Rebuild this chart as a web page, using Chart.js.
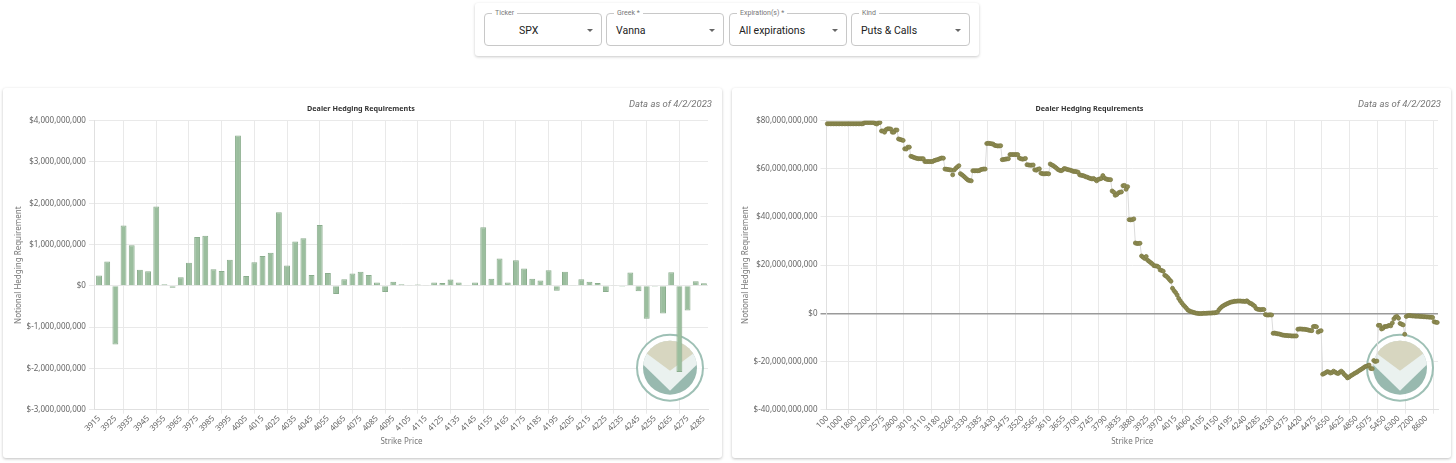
<!DOCTYPE html>
<html>
<head>
<meta charset="utf-8">
<script src="https://cdn.jsdelivr.net/npm/chart.js@4.4.0/dist/chart.umd.min.js"></script>
<style>
  body { margin: 0; background: #fff; font-family: Roboto, "Noto Sans", sans-serif; }
  .controls { position: absolute; left: 475px; top: 3px; width: 504px; height: 53px; background: #fff;
    box-shadow: 0 1px 3px rgba(0,0,0,0.22); border-radius: 3px; }
  .field { position: absolute; top: 10px; height: 33px; border: 1px solid #c8c8c8; border-radius: 4px; box-sizing: border-box; }
  .field .lab { position: absolute; top: -5px; left: 7px; padding: 0 3px; background: #fff; font-size: 7px; color: #777; line-height: 9px; }
  .field .val { position: absolute; top: 10px; font-size: 10.5px; color: #222; line-height: 13px; }
  .field .arr { position: absolute; right: 8px; top: 15px; width: 0; height: 0;
    border-left: 3.5px solid transparent; border-right: 3.5px solid transparent; border-top: 3.5px solid #666; }
  .card { position: absolute; top: 88px; width: 719px; height: 370px; background: #fff;
    box-shadow: 0 1px 3px rgba(0,0,0,0.25); border-radius: 3px; }
  .card canvas { position: absolute; left: 0; top: 0; }
  .asof { position: absolute; right: 10px; top: 10px; font-size: 9.5px; font-style: italic; color: #777; }
</style>
</head>
<body>
<div class="controls">
  <div class="field" style="left:9px;width:118px"><span class="lab">Ticker</span><span class="val" style="left:34px">SPX</span><span class="arr"></span></div>
  <div class="field" style="left:131px;width:118px"><span class="lab">Greek *</span><span class="val" style="left:9px">Vanna</span><span class="arr"></span></div>
  <div class="field" style="left:254px;width:118px"><span class="lab">Expiration(s) *</span><span class="val" style="left:9px">All expirations</span><span class="arr"></span></div>
  <div class="field" style="left:376px;width:119px"><span class="lab">Kind</span><span class="val" style="left:9px">Puts &amp; Calls</span><span class="arr"></span></div>
</div>
<div class="card" style="left:3px"><canvas id="left_chart"></canvas><div class="asof">Data as of 4/2/2023</div></div>
<div class="card" style="left:732px"><canvas id="right_chart"></canvas><div class="asof">Data as of 4/2/2023</div></div>
<script>
// strikes for the left bar chart (every 5 points)
const strikes_left = [
  3915, 3920, 3925, 3930, 3935, 3940, 3945, 3950, 3955, 3960, 3965, 3970, 3975, 3980, 3985,
  3990, 3995, 4000, 4005, 4010, 4015, 4020, 4025, 4030, 4035, 4040, 4045, 4050, 4055, 4060,
  4065, 4070, 4075, 4080, 4085, 4090, 4095, 4100, 4105, 4110, 4115, 4120, 4125, 4130, 4135,
  4140, 4145, 4150, 4155, 4160, 4165, 4170, 4175, 4180, 4185, 4190, 4195, 4200, 4205, 4210,
  4215, 4220, 4225, 4230, 4235, 4240, 4245, 4250, 4255, 4260, 4265, 4270, 4275, 4280, 4285
];
// hedging per strike, in billions of dollars
const hedge_left = [
  0.25, 0.59, -1.42, 1.46, 0.98, 0.39, 0.35, 1.92, 0.04, -0.05,
  0.21, 0.56, 1.18, 1.21, 0.40, 0.36, 0.63, 3.64, 0.24, 0.57,
  0.72, 0.80, 1.78, 0.49, 1.07, 1.15, 0.26, 1.47, 0.31, -0.20,
  0.16, 0.30, 0.34, 0.26, 0.08, -0.15, 0.10, 0.04, 0.01, 0.03,
  0.02, 0.08, 0.07, 0.15, 0.08, 0.01, 0.08, 1.42, 0.17, 0.66,
  0.08, 0.62, 0.42, 0.17, 0.13, 0.375, -0.12, 0.34, 0.01, 0.16,
  0.10, 0.07, -0.15, 0.01, -0.02, 0.32, -0.13, -0.80, -0.02, -0.67,
  0.33, -2.09, -0.60, 0.11, 0.06
];

// strikes for the right cumulative chart, one row per visible tick
const strikes_right = [
  100, 200, 300, 400, 500, 600, 700, 800, 900,
  1000, 1100, 1200, 1300, 1400, 1500, 1600, 1700, 1750,
  1800, 1850, 1900, 1950, 2000, 2050, 2100, 2150, 2175,
  2200, 2250, 2300, 2350, 2400, 2450, 2500, 2525, 2550,
  2575, 2600, 2625, 2650, 2675, 2700, 2725, 2750, 2775,
  2800, 2825, 2850, 2875, 2900, 2925, 2950, 2975, 3000,
  3010, 3020, 3025, 3030, 3040, 3050, 3060, 3075, 3090,
  3110, 3120, 3125, 3130, 3140, 3150, 3155, 3160, 3170,
  3180, 3190, 3200, 3210, 3220, 3225, 3230, 3240, 3250,
  3260, 3270, 3275, 3280, 3290, 3300, 3310, 3320, 3325,
  3330, 3335, 3340, 3350, 3360, 3365, 3370, 3375, 3380,
  3385, 3390, 3395, 3400, 3405, 3410, 3415, 3420, 3425,
  3430, 3435, 3440, 3445, 3450, 3455, 3460, 3465, 3470,
  3475, 3480, 3485, 3490, 3495, 3500, 3505, 3510, 3515,
  3520, 3525, 3530, 3535, 3540, 3545, 3550, 3555, 3560,
  3565, 3570, 3575, 3580, 3585, 3590, 3595, 3600, 3605,
  3610, 3615, 3620, 3625, 3630, 3635, 3640, 3645, 3650,
  3655, 3660, 3665, 3670, 3675, 3680, 3685, 3690, 3695,
  3700, 3705, 3710, 3715, 3720, 3725, 3730, 3735, 3740,
  3745, 3750, 3755, 3760, 3765, 3770, 3775, 3780, 3785,
  3790, 3795, 3800, 3805, 3810, 3815, 3820, 3825, 3830,
  3835, 3840, 3845, 3850, 3855, 3860, 3865, 3870, 3875,
  3880, 3885, 3890, 3895, 3900, 3905, 3910, 3915, 3920,
  3925, 3930, 3935, 3940, 3945, 3950, 3955, 3960, 3965,
  3970, 3975, 3980, 3985, 3990, 3995, 4000, 4005, 4010,
  4015, 4020, 4025, 4030, 4035, 4040, 4045, 4050, 4055,
  4060, 4065, 4070, 4075, 4080, 4085, 4090, 4095, 4100,
  4105, 4110, 4115, 4120, 4125, 4130, 4135, 4140, 4145,
  4150, 4155, 4160, 4165, 4170, 4175, 4180, 4185, 4190,
  4195, 4200, 4205, 4210, 4215, 4220, 4225, 4230, 4235,
  4240, 4245, 4250, 4255, 4260, 4265, 4270, 4275, 4280,
  4285, 4290, 4295, 4300, 4305, 4310, 4315, 4320, 4325,
  4330, 4335, 4340, 4345, 4350, 4355, 4360, 4365, 4370,
  4375, 4380, 4385, 4390, 4395, 4400, 4405, 4410, 4415,
  4420, 4425, 4430, 4435, 4440, 4445, 4450, 4460, 4470,
  4475, 4480, 4490, 4500, 4510, 4520, 4525, 4530, 4540,
  4550, 4560, 4570, 4575, 4580, 4590, 4600, 4610, 4620,
  4625, 4650, 4675, 4700, 4725, 4750, 4775, 4800, 4825,
  4850, 4875, 4900, 4925, 4950, 4975, 5000, 5025, 5050,
  5075, 5100, 5150, 5200, 5250, 5300, 5350, 5400, 5425,
  5450, 5500, 5600, 5700, 5800, 5900, 6000, 6100, 6200,
  6300, 6400, 6500, 6600, 6700, 6800, 6900, 7000, 7100,
  7200, 7300, 7400, 7600, 7800, 8000, 8200, 8400, 8500,
  8600, 8800, 9000, 9200, 9400, 9600, 10000, 12000
];
// cumulative hedging, in billions of dollars, same rows as above
const hedge_right = [
  78.7, 78.7, 78.7, 78.7, 78.7, 78.7, 78.7, 78.7, 78.7,
  78.7, 78.7, 78.7, 78.7, 78.7, 78.7, 78.7, 78.7, 78.7,
  78.7, 78.7, 78.7, 78.7, 78.7, 78.7, 79.2, 79.2, 79.2,
  79.2, 79.2, 79.2, 79.2, 78.8, 78.6, 79.1, 79.2, 75.7,
  75.7, 75.2, 76.3, 76.6, 76.6, 76.5, 75.2, 75.2, 76.1,
  76.1, 72.4, 72.2, 72.0, 71.8, 68.3, 68.2, 69.0, 69.0,
  65.2, 65.0, 64.7, 64.5, 64.3, 64.2, 64.2, 64.2, 64.2,
  63.0, 63.0, 63.0, 63.0, 63.0, 63.0, 63.4, 63.6, 63.8,
  64.0, 64.3, 64.5, 64.4, 59.9, 59.8, 59.7, 59.6, 59.5,
  57.5, 59.5, 60.2, 60.8, 61.3, 58.0, 57.5, 57.0, 56.4,
  55.8, 55.3, 55.1, 55.0, 59.2, 59.2, 59.2, 59.2, 59.2,
  59.6, 59.8, 59.9, 59.9, 70.5, 70.6, 70.5, 70.4, 70.3,
  69.8, 69.6, 69.5, 69.5, 69.6, 63.8, 63.9, 64.0, 64.1,
  64.2, 65.9, 65.9, 65.9, 65.9, 65.9, 65.9, 64.5, 64.2,
  64.0, 64.1, 64.3, 61.7, 61.6, 61.5, 61.5, 61.6, 59.6,
  59.4, 59.8, 60.0, 58.2, 58.0, 57.9, 58.0, 58.0, 57.9,
  62.0, 61.6, 61.3, 60.8, 60.3, 59.7, 59.4, 59.2, 59.5,
  60.1, 60.0, 59.7, 59.6, 59.4, 59.2, 58.9, 58.9, 58.8,
  58.6, 57.5, 57.3, 57.2, 57.0, 56.7, 56.5, 56.2, 56.0,
  55.8, 56.0, 55.6, 55.0, 55.6, 55.8, 56.0, 57.2, 56.2,
  55.8, 55.6, 55.5, 55.5, 50.8, 50.3, 49.0, 49.3, 50.0,
  50.3, 50.4, 53.0, 53.1, 51.5, 52.6, 38.9, 38.8, 38.9,
  39.2, 29.2, 29.0, 29.0, 29.1, 23.8, 23.3, 22.8, 23.6,
  22.0, 21.5, 21.0, 20.5, 19.8, 19.7, 19.6, 19.2, 18.0,
  17.8, 17.5, 15.8, 15.4, 14.8, 14.0, 13.3, 10.4, 9.4,
  8.6, 7.6, 6.2, 5.2, 4.3, 3.5, 2.8, 2.1, 1.3,
  1.0, 0.7, 0.5, 0.3, 0.1, 0.0, -0.1, -0.1, -0.1,
  0.0, 0.0, 0.0, 0.1, 0.1, 0.1, 0.2, 0.2, 0.3,
  0.5, 1.5, 2.2, 2.8, 3.2, 3.6, 3.9, 4.2, 4.5,
  4.7, 4.8, 5.0, 5.0, 5.1, 5.1, 5.1, 5.0, 5.0,
  4.9, 5.2, 4.7, 4.2, 4.0, 3.5, 3.0, 2.0, 1.7,
  1.6, 1.5, 1.6, 1.6, -0.5, -0.7, -0.7, -0.6, -0.7,
  -8.3, -8.2, -8.4, -8.5, -8.6, -8.8, -9.0, -9.1, -9.2,
  -9.2, -9.3, -9.3, -9.4, -9.4, -9.4, -9.4, -6.6, -6.5,
  -6.5, -6.6, -6.6, -6.7, -6.8, -7.0, -7.1, -7.2, -5.5,
  -5.4, -5.6, -7.8, -7.4, -7.2, -25.3, -25.0, -24.6, -24.2,
  -24.4, -24.8, -24.6, -24.0, -24.4, -24.8, -25.0, -24.5, -24.0,
  -24.6, -25.4, -26.0, -26.8, -26.5, -26.0, -25.6, -25.2, -24.8,
  -24.5, -24.0, -23.6, -23.2, -22.8, -22.3, -22.0, -21.8, -21.5,
  -22.9, -23.0, -19.6, -20.0, -19.8, -5.0, -5.0, -6.5, -6.2,
  -5.5, -5.5, -5.3, -5.0, -5.2, -4.0, -2.3, -1.5, -1.3,
  -2.0, -4.2, -4.5, -4.8, -8.7, -1.3, -1.0, -0.9, -1.0,
  -1.1, -1.1, -1.2, -1.2, -1.2, -1.3, -1.3, -1.4, -1.4,
  -1.5, -1.5, -1.6, -1.6, -1.7, -3.5, -3.7, -3.8
];

// y axis ranges (billions): min, max, step
const left_range = [-3, 4, 1];
const right_range = [-40, 80, 20];

Chart.defaults.font.family = "'Noto Sans', sans-serif";
Chart.defaults.font.size = 8;
Chart.defaults.color = "#666";

// "$4,000,000,000" style labels, values come in as billions
function money(v) {
  return "$" + Math.round(v * 1e9).toLocaleString("en-US");
}

// the little round watermark, drawn under the data
const logo = {
  id: "logo",
  beforeDatasetsDraw(chart) {
    const ctx = chart.ctx;
    const a = chart.chartArea;
    const cx = a.right - 38;
    const cy = a.bottom - 42;
    ctx.save();
    ctx.globalAlpha = 0.8;
    ctx.beginPath();
    ctx.arc(cx, cy, 33, 0, Math.PI * 2);
    ctx.fillStyle = "#fff";
    ctx.fill();
    ctx.strokeStyle = "#86b0a3";
    ctx.lineWidth = 2;
    ctx.stroke();
    ctx.beginPath();
    ctx.arc(cx, cy, 27, 0, Math.PI * 2);
    ctx.clip();
    ctx.fillStyle = "#7ea89b";
    ctx.fillRect(cx - 30, cy - 30, 60, 60);
    ctx.fillStyle = "#fff";
    ctx.beginPath();
    ctx.moveTo(cx - 30, cy - 30);
    ctx.lineTo(cx + 30, cy - 30);
    ctx.lineTo(cx + 30, cy - 6);
    ctx.lineTo(cx, cy + 23);
    ctx.lineTo(cx - 30, cy - 6);
    ctx.closePath();
    ctx.fill();
    ctx.fillStyle = "#d2d0b4";
    ctx.beginPath();
    ctx.moveTo(cx - 30, cy - 30);
    ctx.lineTo(cx + 30, cy - 30);
    ctx.lineTo(cx + 30, cy - 19);
    ctx.lineTo(cx, cy + 3);
    ctx.lineTo(cx - 30, cy - 19);
    ctx.closePath();
    ctx.fill();
    ctx.restore();
  }
};

function axis_y(range, dark_zero) {
  return {
    min: range[0],
    max: range[1],
    ticks: { stepSize: range[2], callback: money, padding: 3 },
    grid: {
      color: (c) => (dark_zero && c.tick && c.tick.value === 0 ? "#9a9a9a" : "#e9e9e9"),
      lineWidth: (c) => (dark_zero && c.tick && c.tick.value === 0 ? 1.5 : 1),
      tickLength: 6
    },
    border: { color: "#e0e0e0" },
    title: { display: true, text: "Notional Hedging Requirement", color: "#777",
      font: { size: 8 }, padding: { top: 0, bottom: 0 } }
  };
}

function axis_x(limit) {
  return {
    offset: true,
    ticks: { minRotation: 45, maxRotation: 45, autoSkip: true, autoSkipPadding: 0, maxTicksLimit: limit, padding: 0 },
    grid: { offset: true, color: "#e9e9e9", tickLength: 4 },
    border: { color: "#e0e0e0" },
    title: { display: true, text: "Strike Price", color: "#777", font: { size: 8 }, padding: { top: 4, bottom: 0 } }
  };
}

function base_plugins() {
  return {
    legend: { display: false },
    tooltip: { enabled: false },
    title: {
      display: true,
      text: "Dealer Hedging Requirements",
      color: "#333",
      font: { size: 7.2, weight: "bold" },
      padding: { top: 16.5, bottom: 7.5 }
    }
  };
}

function make_left() {
  const el = document.getElementById("left_chart");
  el.width = 719;
  el.height = 370;
  new Chart(el.getContext("2d"), {
    type: "bar",
    data: {
      labels: strikes_left,
      datasets: [{
        data: hedge_left,
        backgroundColor: "#9bbe9e",
        borderColor: "#8aad8d",
        borderWidth: 1
      }]
    },
    options: {
      responsive: false,
      animation: false,
      layout: { padding: { left: 11, right: 14, bottom: 11 } },
      plugins: base_plugins(),
      scales: { x: axis_x(38), y: axis_y(left_range, false) }
    },
    plugins: [logo]
  });
}

function make_right() {
  const el = document.getElementById("right_chart");
  el.width = 719;
  el.height = 370;
  new Chart(el.getContext("2d"), {
    type: "line",
    data: {
      labels: strikes_right,
      datasets: [{
        data: hedge_right,
        borderColor: "#dcdcdc",
        borderWidth: 1,
        pointRadius: 2,
        pointBackgroundColor: "#8e8c52",
        pointBorderColor: "#7d7b45",
        pointBorderWidth: 0.8,
        tension: 0
      }]
    },
    options: {
      responsive: false,
      animation: false,
      layout: { padding: { left: 9, right: 13, bottom: 11 } },
      plugins: base_plugins(),
      scales: { x: axis_x(44), y: axis_y(right_range, true) }
    },
    plugins: [logo]
  });
}

make_left();
make_right();
</script>
</body>
</html>
